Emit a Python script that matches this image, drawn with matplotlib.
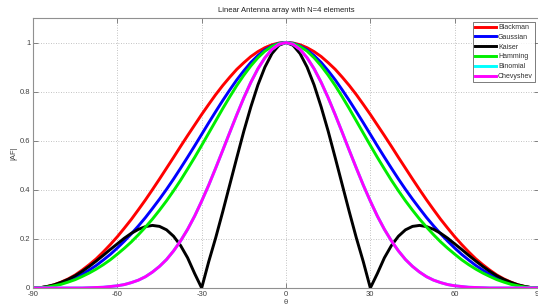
import matplotlib
matplotlib.use("Agg")
import matplotlib.pyplot as plt

plt.rcParams['font.family'] = ['Liberation Sans', 'DejaVu Sans']

theta = [-90, -87.5, -85, -82.5, -80, -77.5, -75, -72.5, -70, -67.5, -65, -62.5, -60, -57.5, -55, -52.5,
         -50, -47.5, -45, -42.5, -40, -37.5, -35, -32.5, -30, -27.5, -25, -22.5, -20, -17.5, -15, -12.5,
         -10, -7.5, -5, -2.5, 0, 2.5, 5, 7.5, 10, 12.5, 15, 17.5, 20, 22.5, 25, 27.5, 30, 32.5, 35, 37.5,
         40, 42.5, 45, 47.5, 50, 52.5, 55, 57.5, 60, 62.5, 65, 67.5, 70, 72.5, 75, 77.5, 80, 82.5, 85,
         87.5, 90]

blackman = [0.000, 0.001, 0.006, 0.013, 0.024, 0.037, 0.053, 0.073, 0.095, 0.119, 0.147, 0.177, 0.209,
            0.244, 0.280, 0.319, 0.359, 0.401, 0.444, 0.488, 0.532, 0.577, 0.621, 0.664, 0.707, 0.748,
            0.788, 0.825, 0.859, 0.891, 0.918, 0.943, 0.963, 0.979, 0.991, 0.998,
            1.000,
            0.998, 0.991, 0.979, 0.963, 0.943, 0.918, 0.891, 0.859, 0.825, 0.788, 0.748, 0.707, 0.664,
            0.621, 0.577, 0.532, 0.488, 0.444, 0.401, 0.359, 0.319, 0.280, 0.244, 0.209, 0.177, 0.147,
            0.119, 0.095, 0.073, 0.053, 0.037, 0.024, 0.013, 0.006, 0.001, 0.000]

gaussian = [0.000, 0.001, 0.005, 0.010, 0.018, 0.029, 0.041, 0.056, 0.073, 0.092, 0.114, 0.137, 0.163,
            0.191, 0.221, 0.253, 0.287, 0.324, 0.362, 0.402, 0.444, 0.488, 0.533, 0.579, 0.626, 0.673,
            0.719, 0.764, 0.807, 0.848, 0.885, 0.919, 0.947, 0.970, 0.986, 0.997,
            1.000,
            0.997, 0.986, 0.970, 0.947, 0.919, 0.885, 0.848, 0.807, 0.764, 0.719, 0.673, 0.626, 0.579,
            0.533, 0.488, 0.444, 0.402, 0.362, 0.324, 0.287, 0.253, 0.221, 0.191, 0.163, 0.137, 0.114,
            0.092, 0.073, 0.056, 0.041, 0.029, 0.018, 0.010, 0.005, 0.001, 0.000]

kaiser = [0.000, 0.001, 0.006, 0.013, 0.023, 0.035, 0.050, 0.068, 0.088, 0.110, 0.133, 0.157, 0.180,
          0.203, 0.223, 0.239, 0.250, 0.255, 0.251, 0.237, 0.211, 0.173, 0.123, 0.059, 0.000, 0.107,
          0.205, 0.311, 0.421, 0.531, 0.639, 0.738, 0.827, 0.900, 0.955, 0.989,
          1.000,
          0.989, 0.955, 0.900, 0.827, 0.738, 0.639, 0.531, 0.421, 0.311, 0.205, 0.107, 0.000, 0.059,
          0.123, 0.173, 0.211, 0.237, 0.251, 0.255, 0.250, 0.239, 0.223, 0.203, 0.180, 0.157, 0.133,
          0.110, 0.088, 0.068, 0.050, 0.035, 0.023, 0.013, 0.006, 0.001, 0.000]

hamming = [0.000, 0.001, 0.004, 0.009, 0.015, 0.024, 0.034, 0.047, 0.061, 0.077, 0.095, 0.115, 0.138,
           0.162, 0.188, 0.217, 0.248, 0.281, 0.317, 0.355, 0.396, 0.439, 0.485, 0.532, 0.581, 0.631,
           0.681, 0.731, 0.779, 0.825, 0.867, 0.905, 0.938, 0.965, 0.984, 0.996,
           1.000,
           0.996, 0.984, 0.965, 0.938, 0.905, 0.867, 0.825, 0.779, 0.731, 0.681, 0.631, 0.581, 0.532,
           0.485, 0.439, 0.396, 0.355, 0.317, 0.281, 0.248, 0.217, 0.188, 0.162, 0.138, 0.115, 0.095,
           0.077, 0.061, 0.047, 0.034, 0.024, 0.015, 0.009, 0.004, 0.001, 0.000]

binomial = [0.000, 0.000, 0.000, 0.000, 0.000, 0.000, 0.000, 0.000, 0.001, 0.002, 0.003, 0.006, 0.009,
            0.014, 0.022, 0.032, 0.046, 0.065, 0.088, 0.116, 0.151, 0.192, 0.239, 0.293, 0.354, 0.419,
            0.489, 0.561, 0.634, 0.706, 0.775, 0.838, 0.893, 0.938, 0.972, 0.993,
            1.000,
            0.993, 0.972, 0.938, 0.893, 0.838, 0.775, 0.706, 0.634, 0.561, 0.489, 0.419, 0.354, 0.293,
            0.239, 0.192, 0.151, 0.116, 0.088, 0.065, 0.046, 0.032, 0.022, 0.014, 0.009, 0.006, 0.003,
            0.002, 0.001, 0.000, 0.000, 0.000, 0.000, 0.000, 0.000, 0.000, 0.000]

chebyshev = [0.000, 0.000, 0.000, 0.000, 0.000, 0.000, 0.000, 0.000, 0.001, 0.002, 0.003, 0.006, 0.009,
             0.014, 0.022, 0.032, 0.046, 0.065, 0.088, 0.116, 0.151, 0.192, 0.239, 0.293, 0.354, 0.419,
             0.489, 0.561, 0.634, 0.706, 0.775, 0.838, 0.893, 0.938, 0.972, 0.993,
             1.000,
             0.993, 0.972, 0.938, 0.893, 0.838, 0.775, 0.706, 0.634, 0.561, 0.489, 0.419, 0.354, 0.293,
             0.239, 0.192, 0.151, 0.116, 0.088, 0.065, 0.046, 0.032, 0.022, 0.014, 0.009, 0.006, 0.003,
             0.002, 0.001, 0.000, 0.000, 0.000, 0.000, 0.000, 0.000, 0.000, 0.000]

series = [("Blackman", blackman, "#ff0000"),
          ("Gaussian", gaussian, "#0000ff"),
          ("Kaiser", kaiser, "#000000"),
          ("Hamming", hamming, "#00ee00"),
          ("Binomial", binomial, "#00ffff"),
          ("Chevyshev", chebyshev, "#ff00ff")]

xticks = [-90, -60, -30, 0, 30, 60, 90]
yticks = [0, 0.2, 0.4, 0.6, 0.8, 1]
ytick_labels = ["0", "0.2", "0.4", "0.6", "0.8", "1"]

W, H = 538, 308
fig = plt.figure(figsize=(W / 100, H / 100), dpi=100)
ax = fig.add_axes([33 / W, 20 / H, 506 / W, 270 / H])

for name, vals, col in series:
    ax.plot(theta, vals, color=col, lw=2.1, label=name, solid_joinstyle='round')

ax.set_xlim(-90, 90)
ax.set_ylim(0, 1.1)
ax.set_xticks(xticks)
ax.set_xticklabels([str(t) for t in xticks])
ax.set_yticks(yticks)
ax.set_yticklabels(ytick_labels)

ax.grid(True, linestyle=(0, (1, 2)), color='#b0b0b0', linewidth=0.6)
ax.tick_params(direction='in', length=3.5, width=0.6, colors='#707070', labelsize=5.5,
               top=True, right=True, pad=2)
ax.tick_params(labelcolor='#404040')
for s in ax.spines.values():
    s.set_color('#909090')
    s.set_linewidth(0.8)

ax.set_title("Linear Antenna array with N=4 elements", fontsize=5.5, color='#202020', pad=4)
ax.set_xlabel("θ", fontsize=5.5, color='#404040', labelpad=1)
ax.set_ylabel("|AF|", fontsize=5.5, color='#404040', labelpad=2)

leg = ax.legend(loc='upper right', bbox_to_anchor=(535 / W, 1 - 22 / H),
                bbox_transform=fig.transFigure, fontsize=5.0, frameon=True, fancybox=False,
                handlelength=3.0, handletextpad=0.25, labelspacing=0.4, borderpad=0.3,
                borderaxespad=0)
leg.get_frame().set_edgecolor('#404040')
leg.get_frame().set_linewidth(0.6)
for t in leg.get_texts():
    t.set_color('#303030')

fig.savefig("out.png", dpi=100)
